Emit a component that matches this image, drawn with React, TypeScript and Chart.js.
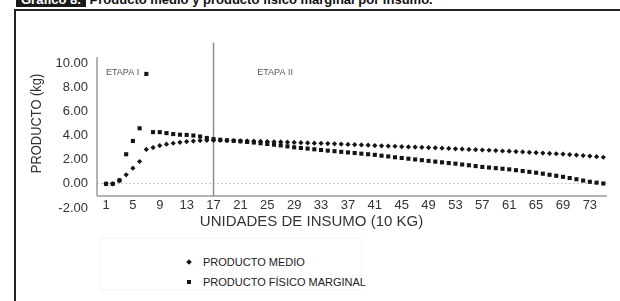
import React, { useEffect, useRef } from "react";
import { Chart, registerables } from "chart.js";

Chart.register(...registerables);

// Unidades de insumo (10 kg): 1 .. 75
const unidades = [
  1, 2, 3, 4, 5, 6, 7, 8, 9, 10, 11, 12, 13, 14, 15, 16, 17, 18, 19, 20,
  21, 22, 23, 24, 25, 26, 27, 28, 29, 30, 31, 32, 33, 34, 35, 36, 37, 38, 39, 40,
  41, 42, 43, 44, 45, 46, 47, 48, 49, 50, 51, 52, 53, 54, 55, 56, 57, 58, 59, 60,
  61, 62, 63, 64, 65, 66, 67, 68, 69, 70, 71, 72, 73, 74, 75,
];

const productoMedio = [
  0.0, 0.0, 0.25, 0.75, 1.3, 1.85, 2.85, 3.0, 3.17, 3.28,
  3.36, 3.44, 3.5, 3.54, 3.58, 3.6, 3.6, 3.6, 3.59, 3.58,
  3.56, 3.55, 3.53, 3.52, 3.5, 3.48, 3.47, 3.45, 3.43, 3.41,
  3.39, 3.37, 3.35, 3.33, 3.31, 3.29, 3.26, 3.24, 3.22, 3.2,
  3.17, 3.15, 3.13, 3.11, 3.08, 3.06, 3.04, 3.02, 3.0, 2.98,
  2.95, 2.93, 2.9, 2.88, 2.85, 2.83, 2.8, 2.78, 2.75, 2.72,
  2.7, 2.67, 2.64, 2.61, 2.58, 2.55, 2.52, 2.49, 2.46, 2.42,
  2.38, 2.34, 2.3, 2.25, 2.2,
];

const productoFisicoMarginal = [
  0.0, 0.0, 0.3, 2.45, 3.55, 4.6, 9.1, 4.28, 4.28, 4.2,
  4.12, 4.07, 4.05, 4.0, 3.92, 3.8, 3.7, 3.65, 3.6, 3.56,
  3.52, 3.47, 3.42, 3.36, 3.3, 3.24, 3.18, 3.1, 3.02, 2.97,
  2.92, 2.86, 2.8, 2.75, 2.7, 2.65, 2.6, 2.55, 2.5, 2.45,
  2.4, 2.33, 2.27, 2.2, 2.14, 2.08, 2.02, 1.96, 1.9, 1.84,
  1.78, 1.72, 1.67, 1.6, 1.54, 1.47, 1.4, 1.35, 1.3, 1.25,
  1.2, 1.13, 1.06, 0.99, 0.92, 0.84, 0.75, 0.67, 0.58, 0.48,
  0.38, 0.27, 0.17, 0.1, 0.03,
];

const xTickLabels = [1, 5, 9, 13, 17, 21, 25, 29, 33, 37, 41, 45, 49, 53, 57, 61, 65, 69, 73];
const etapaDivisoria = 17;
const etapaLabels = ["ETAPA I", "ETAPA II"];
const yTitle = "PRODUCTO (kg)";
const xTitle = "UNIDADES DE INSUMO (10 KG)";
const xAxisCrossesAt = -1;

const FONT = '"Liberation Sans", Arial, Helvetica, sans-serif';
const MARK = "#141414";
const AXIS = "#9a9a9a";
const TEXT = "#333333";

const annotationPlugin = {
  id: "etapas",
  beforeDatasetsDraw(chart: any) {
    const { ctx, chartArea, scales } = chart;
    const x = scales.x;
    const y = scales.y;
    const axisY = y.getPixelForValue(xAxisCrossesAt);
    ctx.save();
    ctx.strokeStyle = AXIS;
    ctx.lineWidth = 1.5;
    // y axis line (from top of plot down to the x axis)
    ctx.beginPath();
    ctx.moveTo(chartArea.left, chartArea.top);
    ctx.lineTo(chartArea.left, axisY);
    ctx.stroke();
    // x axis line
    ctx.beginPath();
    ctx.moveTo(chartArea.left, axisY);
    ctx.lineTo(chartArea.right, axisY);
    ctx.stroke();
    // stage divider
    const dx = x.getPixelForValue(etapaDivisoria);
    ctx.strokeStyle = "#8c8c8c";
    ctx.beginPath();
    ctx.moveTo(dx, y.getPixelForValue(11.7));
    ctx.lineTo(dx, axisY);
    ctx.stroke();
    // stage labels
    ctx.fillStyle = "#555555";
    ctx.font = `9px ${FONT}`;
    ctx.textBaseline = "middle";
    ctx.textAlign = "left";
    ctx.fillText(etapaLabels[0], x.getPixelForValue(1), y.getPixelForValue(9.25));
    ctx.fillText(etapaLabels[1], x.getPixelForValue(23.5), y.getPixelForValue(9.25));
    // y axis title (condensed, as in the original)
    ctx.save();
    ctx.translate(chartArea.left - 60, y.getPixelForValue(5));
    ctx.rotate(-Math.PI / 2);
    ctx.scale(0.86, 1);
    ctx.font = `15px ${FONT}`;
    ctx.fillStyle = TEXT;
    ctx.textAlign = "center";
    ctx.textBaseline = "middle";
    ctx.fillText(yTitle, 0, 0);
    ctx.restore();
    ctx.restore();
  },
};

function ChartCanvas() {
  const ref = useRef<HTMLCanvasElement | null>(null);
  useEffect(() => {
    if (!ref.current) return;
    const chart = new Chart(ref.current, {
      type: "scatter",
      data: {
        datasets: [
          {
            label: "PRODUCTO MEDIO",
            data: unidades.map((u, i) => ({ x: u, y: productoMedio[i] })),
            pointStyle: "rectRot",
            pointRadius: 2.6,
            pointBackgroundColor: MARK,
            pointBorderWidth: 0,
            showLine: false,
          },
          {
            label: "PRODUCTO FÍSICO MARGINAL",
            data: unidades.map((u, i) => ({ x: u, y: productoFisicoMarginal[i] })),
            pointStyle: "rect",
            pointRadius: 2.9,
            pointBackgroundColor: MARK,
            pointBorderWidth: 0,
            showLine: false,
          },
        ],
      },
      options: {
        animation: false,
        responsive: false,
        maintainAspectRatio: false,
        layout: { padding: { top: 46, right: 13, left: 0, bottom: 0 } },
        plugins: {
          legend: { display: false },
          tooltip: { enabled: false },
          title: {
            display: true,
            position: "bottom",
            text: xTitle,
            color: TEXT,
            font: { family: FONT, size: 15, weight: "normal" },
            padding: { top: 5, bottom: 0 },
          },
        },
        scales: {
          x: {
            type: "linear",
            position: { y: xAxisCrossesAt } as any,
            min: -0.34,
            max: 75.55,
            afterBuildTicks: (s: any) => {
              s.ticks = xTickLabels.map((v) => ({ value: v }));
            },
            grid: { display: false, drawTicks: false },
            border: { display: false },
            ticks: {
              color: TEXT,
              font: { family: FONT, size: 13 },
              padding: 2,
              maxRotation: 0,
              autoSkip: false,
              callback: (v: any) => String(v),
            },
          },
          y: {
            type: "linear",
            position: "left",
            min: -2,
            max: 10.5,
            afterFit: (s: any) => {
              s.width = 81;
            },
            grid: {
              drawTicks: false,
              lineWidth: 1,
              color: (c: any) => (c.tick && c.tick.value === 0 ? "#c8c8c8" : "rgba(0,0,0,0)"),
            },
            border: { display: false, dash: [2, 2] },
            ticks: {
              stepSize: 2,
              includeBounds: false,
              color: TEXT,
              font: { family: FONT, size: 13 },
              padding: 9,
              callback: (v: any) => Number(v).toFixed(2),
            },
            title: { display: false },
          },
        },
      },
      plugins: [annotationPlugin],
    } as any);
    return () => chart.destroy();
  }, []);
  return <canvas ref={ref} width={604} height={220} style={{ display: "block" }} />;
}

export default function App() {
  const legendItem = (shape: "diamond" | "square", text: string) => (
    <div style={{ display: "flex", alignItems: "center", height: 20, whiteSpace: "nowrap" }}>
      <span
        style={{
          display: "inline-block",
          flexShrink: 0,
          width: 4,
          height: 4,
          background: MARK,
          transform: shape === "diamond" ? "rotate(45deg)" : "none",
          marginLeft: 86,
          marginRight: 12,
        }}
      />
      <span style={{ flexShrink: 0 }}>{text}</span>
    </div>
  );
  return (
    <div
      style={{
        position: "fixed",
        left: 0,
        top: 0,
        width: 620,
        height: 301,
        overflow: "hidden",
        background: "#ffffff",
        fontFamily: FONT,
      }}
    >
      <div
        style={{
          position: "absolute",
          left: 16,
          top: -8,
          height: 15,
          lineHeight: "15px",
          fontSize: 13,
          fontWeight: "bold",
          whiteSpace: "nowrap",
          color: "#111",
        }}
      >
        <span style={{ background: "#1a1a1a", color: "#fff", padding: "0 5px", display: "inline-block", height: 15 }}>
          Gráfico 8.
        </span>{" "}
        Producto medio y producto físico marginal por insumo.
      </div>
      <div style={{ position: "absolute", left: 14, top: 9, width: 606, height: 2, background: "#222" }} />
      <div style={{ position: "absolute", left: 14, top: 9, width: 2, height: 292, background: "#222" }} />
      <div style={{ position: "absolute", left: 16, top: 11, width: 604, height: 220 }}>
        <ChartCanvas />
      </div>
      <div
        style={{
          position: "absolute",
          left: 100,
          top: 238,
          width: 262,
          height: 52,
          border: "1px solid #f5f5f5",
          paddingTop: 13,
          boxSizing: "border-box",
          fontSize: 11,
          color: "#222",
        }}
      >
        {legendItem("diamond", "PRODUCTO MEDIO")}
        {legendItem("square", "PRODUCTO FÍSICO MARGINAL")}
      </div>
    </div>
  );
}
